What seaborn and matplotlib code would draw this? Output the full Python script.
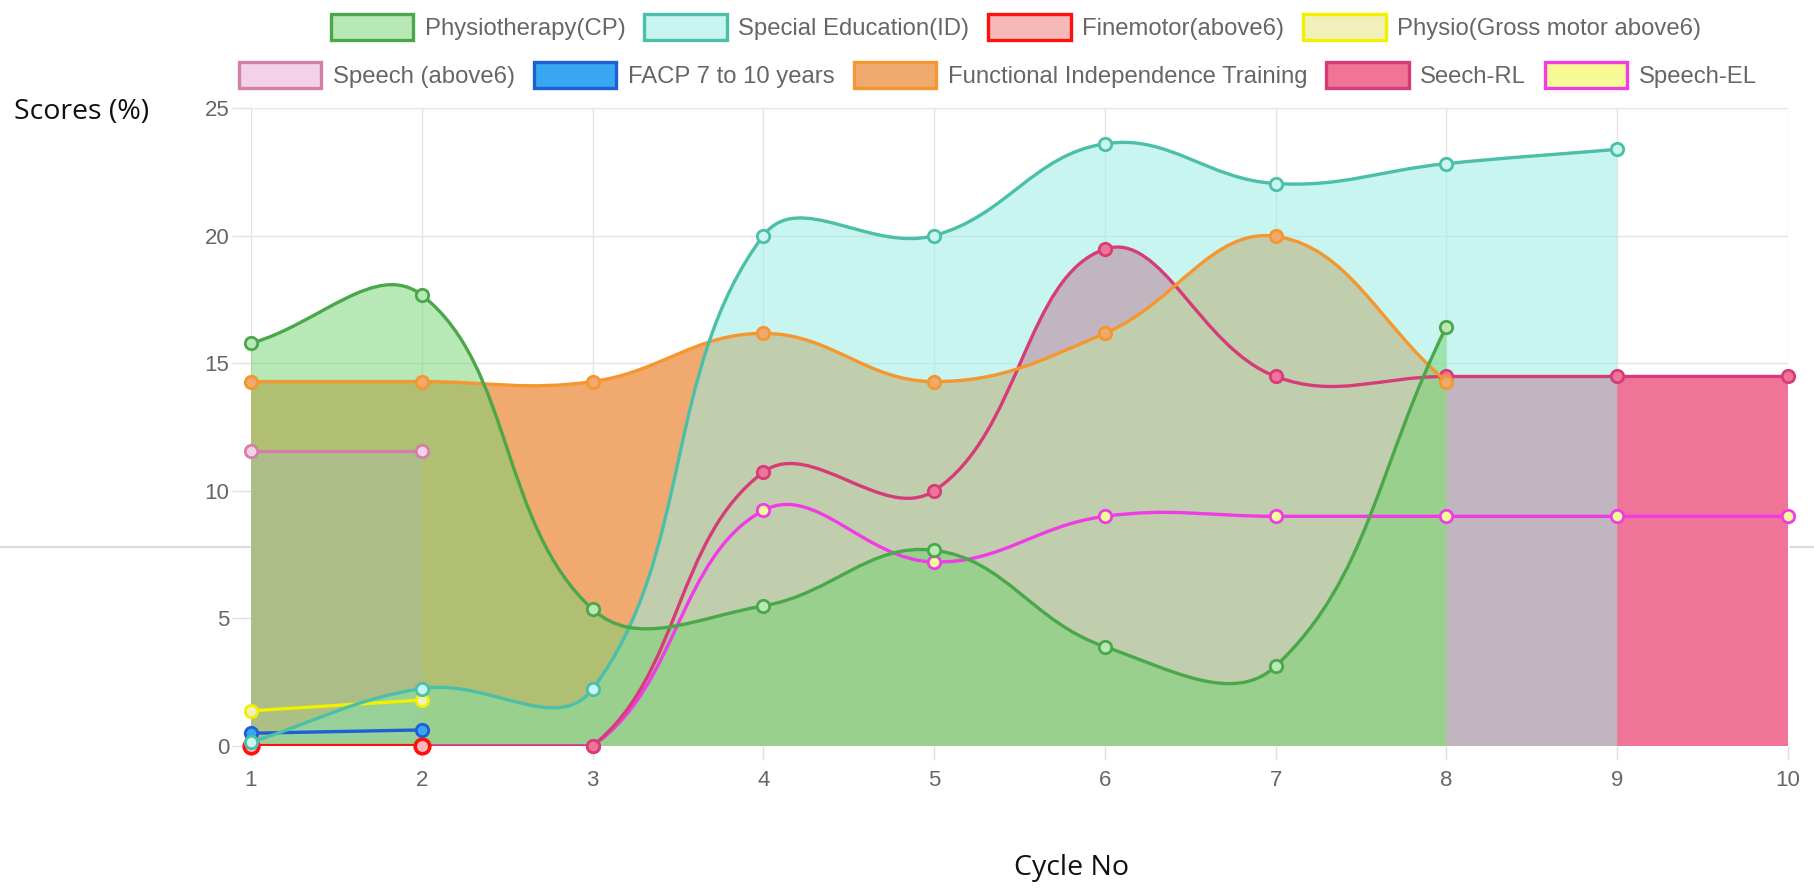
import numpy as np
import pandas as pd
import matplotlib
matplotlib.use("Agg")
import matplotlib.pyplot as plt
import seaborn as sns
from matplotlib.path import Path
from matplotlib.patches import PathPatch, Patch
from matplotlib.lines import Line2D

# values (Scores %, per cycle)
cycles = [1, 2, 3, 4, 5, 6, 7, 8, 9, 10]
physio_cp = [15.78, 17.67, 5.36, 5.49, 7.67, 3.89, 3.13, 16.43]
special_ed = [0.15, 2.25, 2.23, 20.0, 20.0, 23.6, 22.04, 22.82, 23.38]
finemotor = [0.0, 0.0]
physio_gross = [1.38, 1.8]
speech_above6 = [11.54, 11.54]
facp = [0.5, 0.63]
fit = [14.28, 14.28, 14.28, 16.17, 14.28, 16.17, 19.97, 14.28]
seech_rl = [0.0, 0.0, 0.0, 10.73, 10.0, 19.47, 14.48, 14.48, 14.48, 14.48]
speech_el = [0.0, 0.0, 0.0, 9.23, 7.21, 9.0, 9.0, 9.0, 9.0, 9.0]

labels = ["Physiotherapy(CP)", "Special Education(ID)", "Finemotor(above6)",
          "Physio(Gross motor above6)", "Speech (above6)", "FACP 7 to 10 years",
          "Functional Independence Training", "Seech-RL", "Speech-EL"]
series = [physio_cp, special_ed, finemotor, physio_gross, speech_above6,
          facp, fit, seech_rl, speech_el]

# (line colour, fill rgba, legend/marker face)
styles = [
    ("#4aa84a", (118/255, 211/255, 114/255, 0.52), "#b8e8b6"),
    ("#4cbfa8", (155/255, 237/255, 226/255, 0.55), "#c8f5ef"),
    ("#ff1010", (240/255, 80/255, 80/255, 0.4), "#f6b8b8"),
    ("#f0f000", (220/255, 220/255, 90/255, 0.12), "#f1f0b8"),
    ("#d47fa8", (229/255, 165/255, 209/255, 0.5), "#f2d2e8"),
    ("#1f5fd6", (54/255, 162/255, 235/255, 0.0), "#38a6f0"),
    ("#f5962f", (240/255, 170/255, 112/255, 1.0), "#f0aa70"),
    ("#d63c78", (240/255, 116/255, 152/255, 1.0), "#f07498"),
    ("#f03ce6", (245/255, 250/255, 150/255, 1.0), "#f5fa96"),
]

sns.set_theme(style="white")
plt.rcParams["font.family"] = ["Liberation Sans", "DejaVu Sans"]

fig = plt.figure(figsize=(18.15, 8.92), dpi=100)
ax = fig.add_axes([251/1815, 1 - 746/892, (1788 - 251)/1815, (746 - 108)/892])
ax.set_xlim(1, 10)
ax.set_ylim(0, 25)

# pixel scale, used for chart.js style bezier control points
sx = (1788 - 251) / 9.0
sy = (746 - 108) / 25.0


def bezier(xs, ys, t=0.4):
    px = np.array(xs, float) * sx
    py = np.array(ys, float) * sy
    n = len(px)
    cpp, cpn = [], []
    for i in range(n):
        a = max(i - 1, 0)
        b = min(i + 1, n - 1)
        d01 = np.hypot(px[i] - px[a], py[i] - py[a])
        d12 = np.hypot(px[b] - px[i], py[b] - py[i])
        tot = d01 + d12
        s01 = d01 / tot if tot else 0
        s12 = d12 / tot if tot else 0
        dx, dy = px[b] - px[a], py[b] - py[a]
        p = (px[i] - t * s01 * dx, py[i] - t * s01 * dy)
        q = (px[i] + t * s12 * dx, py[i] + t * s12 * dy)
        cap = lambda c: (min(max(c[0], 1 * sx), 10 * sx), min(max(c[1], 0), 25 * sy))
        cpp.append(cap(p))
        cpn.append(cap(q))
    verts = [(px[0], py[0])]
    codes = [Path.MOVETO]
    for i in range(n - 1):
        verts += [cpn[i], cpp[i + 1], (px[i + 1], py[i + 1])]
        codes += [Path.CURVE4] * 3
    verts = [(v[0] / sx, v[1] / sy) for v in verts]
    return verts, codes


n = len(series)
for i, (vals, (lc, fc, mc)) in enumerate(zip(series, styles)):
    xs = cycles[:len(vals)]
    verts, codes = bezier(xs, vals)
    # fill to origin
    fv = [(xs[0], 0)] + verts + [(xs[-1], 0), (xs[0], 0)]
    fcodes = [Path.MOVETO, Path.LINETO] + codes[1:] + [Path.LINETO, Path.CLOSEPOLY]
    ax.add_patch(PathPatch(Path(fv, fcodes), facecolor=fc, edgecolor="none",
                           zorder=1 + (n - i) * 0.01))
    lw = 3.0 if i == 2 else 2.4
    ax.add_patch(PathPatch(Path(verts, codes), facecolor="none", edgecolor=lc,
                           lw=lw, zorder=3 + (n - i) * 0.01, capstyle="round"))
    df = pd.DataFrame({"cycle": xs, "score": vals})
    sns.scatterplot(data=df, x="cycle", y="score", ax=ax,
                    s=110 if i == 2 else 80, color=mc,
                    edgecolor=lc, linewidth=2.6 if i == 2 else 2.0,
                    zorder=3.005 + (n - i) * 0.01, clip_on=False, legend=False)

# grid like chart.js
ax.grid(True, color="#e5e5e5", lw=1.0, zorder=0)
ax.set_axisbelow(True)
ax.axvline(1, color="#a0a0a0", lw=1.2, zorder=0.5)
for s in ax.spines.values():
    s.set_visible(False)
ax.set_xticks(cycles)
ax.set_yticks([0, 5, 10, 15, 20, 25])
ax.tick_params(axis="y", length=13.5, width=1, color="#e0e0e0", pad=2,
               labelsize=16, labelcolor="#666666", left=True)
ax.tick_params(axis="x", length=10, width=1, color="#e0e0e0", pad=7,
               labelsize=16, labelcolor="#666666", bottom=True)
ax.set_xlabel("")
ax.set_ylabel("")

fig.text(14/1815, 1 - 112/892, "Scores (%)", fontsize=20.5, family="Open Sans",
         color="#111111", va="center", ha="left")
fig.text(1072/1815, 1 - 868/892, "Cycle No", fontsize=20.5, family="Open Sans",
         color="#111111", va="center", ha="center")

# stray separator line in the page behind the chart
fig.add_artist(Line2D([0, 250/1815], [1 - 547/892] * 2, color="#dcdcdc", lw=1.6))
fig.add_artist(Line2D([1790/1815, 1], [1 - 547/892] * 2, color="#dcdcdc", lw=1.6))

handles = [Patch(facecolor=mc, edgecolor=lc, lw=2.4) for lc, fc, mc in styles]
kw = dict(frameon=False, fontsize=17.2, handlelength=3.45, handleheight=1.3,
          handletextpad=0.48, columnspacing=0.8, borderpad=0, borderaxespad=0,
          labelcolor="#666666", loc="center")
fig.legend(handles[:4], labels[:4], ncol=4,
           bbox_to_anchor=(1016/1815, 1 - 27/892), **kw)
fig.legend(handles[4:], labels[4:], ncol=5,
           bbox_to_anchor=(998/1815, 1 - 75/892), **kw)

fig.savefig("out.png", dpi=100)
